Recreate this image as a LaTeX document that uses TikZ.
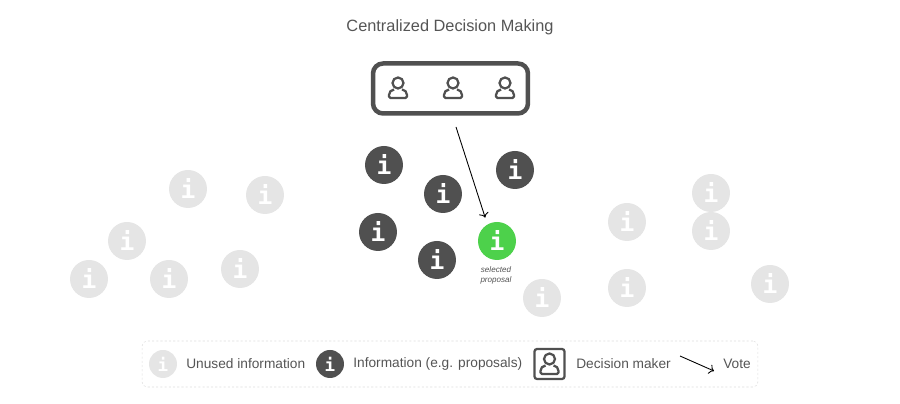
\documentclass[tikz,border=0pt]{standalone}
\usepackage{fontspec}
\setmainfont{Liberation Sans}
\newfontfamily\iconfont{DejaVu Sans Mono}
\usetikzlibrary{arrows.meta}
\definecolor{darkinfo}{HTML}{505050}
\definecolor{lightinfo}{HTML}{E5E5E5}
\definecolor{greeninfo}{HTML}{4DD14B}
\definecolor{labeltext}{HTML}{555555}
\definecolor{legendline}{HTML}{DDDDDD}
\tikzset{
    info/.style={shape=circle,inner sep=0pt,minimum size=0.76cm,text=white,font=\iconfont\bfseries\fontsize{14pt}{14pt}\selectfont},
    unused/.style={info,fill=lightinfo},
    used/.style={info,fill=darkinfo},
    chosen/.style={info,fill=greeninfo},
    smallinfo/.style={minimum size=0.56cm,font=\iconfont\bfseries\fontsize{10pt}{10pt}\selectfont},
    legendtext/.style={anchor=west,inner sep=0pt,text=labeltext,font=\fontsize{7.8pt}{10pt}\selectfont},
    vote/.style={every edge/.style={draw=black,line width=0.5pt}},
    person/.pic={
        \draw[darkinfo,line width=0.045cm,line join=round] (0,-5) circle (5.5);
        \draw[darkinfo,line width=0.045cm,line join=round] (-4,1.5) .. controls (-7,2) and (-9,4) .. (-9,7) -- (-9,8.5) .. controls (-9,9.5) and (-8.5,10) .. (-7.5,10) -- (7.5,10) .. controls (8.5,10) and (9,9.5) .. (9,8.5) -- (9,7) .. controls (9,4) and (7,2) .. (4,1.5);
    }
}
\begin{document}
\begin{tikzpicture}[x=0.02cm,y=-0.02cm]
    \useasboundingbox (0,0) rectangle (900,404);
    \node[text=labeltext,font=\fontsize{9.3pt}{11pt}\selectfont] (T) at (450,27) {Centralized Decision Making};

    \node[shape=rectangle,draw=darkinfo,line width=0.09cm,rounded corners=0.2cm,minimum width=3.1cm,minimum height=1cm,inner sep=0pt] (M) at (450.5,88.5) {};
    \pic at (398,88) {person};
    \pic at (453,88) {person};
    \pic at (505,88) {person};

    \node[unused] (G1) at (188,189) {i};
    \node[unused] (G2) at (265,195) {i};
    \node[unused] (G3) at (127,241) {i};
    \node[unused] (G4) at (89,279) {i};
    \node[unused] (G5) at (169,279) {i};
    \node[unused] (G6) at (240,269) {i};
    \node[unused] (G7) at (542,298) {i};
    \node[unused] (G8) at (627,222) {i};
    \node[unused] (G9) at (627,288) {i};
    \node[unused] (G10) at (711,193) {i};
    \node[unused] (G11) at (711,231) {i};
    \node[unused] (G12) at (770,284) {i};

    \node[used] (D1) at (384,165) {i};
    \node[used] (D2) at (443,194) {i};
    \node[used] (D3) at (515,170) {i};
    \node[used] (D4) at (378,232) {i};
    \node[used] (D5) at (437,260) {i};

    \node[chosen] (S) at (497,241) {i};
    \node[align=center,inner sep=0pt,text=labeltext,font=\itshape\fontsize{4.6pt}{5.6pt}\selectfont] (P) at (496,275) {selected\\proposal};

    \coordinate (V) at (456,127);
    \path [->,vote] (V) edge[shorten >=0.14cm] (S.120);

    \node[shape=rectangle,draw=legendline,dash pattern=on 1.2pt off 1.2pt,line width=0.3pt,rounded corners=0.1cm,minimum width=12.32cm,minimum height=0.92cm,inner sep=0pt] (L) at (450,364) {};
    \node[unused,smallinfo] (L1) at (163,364) {i};
    \node[legendtext] (L2) at (186,364) {Unused information};
    \node[used,smallinfo] (L3) at (330,364) {i};
    \node[legendtext] (L4) at (353,364) {Information (e.g. proposals)};
    \node[shape=rectangle,draw=darkinfo,line width=0.045cm,rounded corners=0.05cm,minimum size=0.6cm,inner sep=0pt] (L5) at (549.5,364) {};
    \pic at (549.5,364) {person};
    \node[legendtext] (L6) at (576,364) {Decision maker};
    \coordinate (A) at (680,356);
    \coordinate (B) at (714,371);
    \path [->,vote] (A) edge (B);
    \node[legendtext] (L7) at (723,364) {Vote};
\end{tikzpicture}
\end{document}
